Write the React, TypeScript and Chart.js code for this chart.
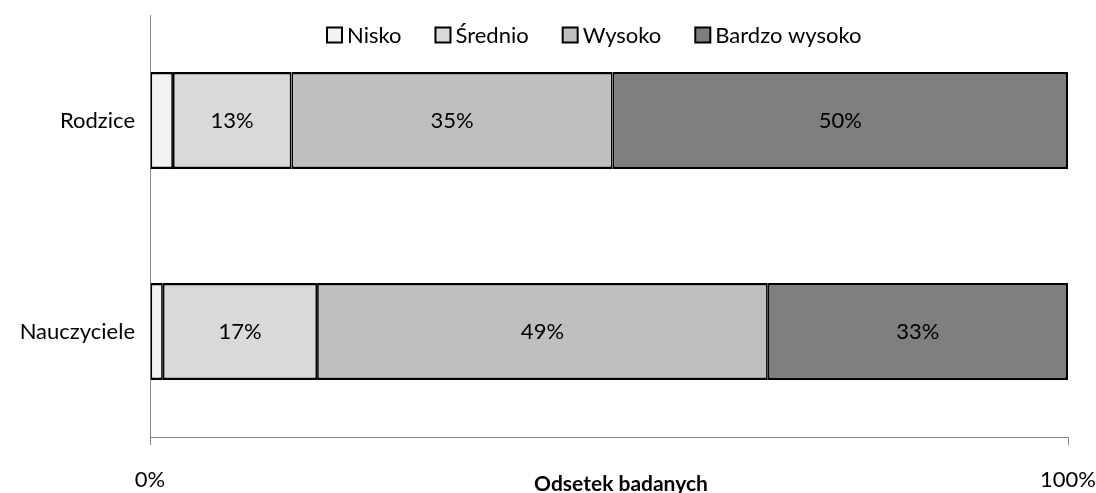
import React, { useEffect, useRef } from 'react';
import { Chart, registerables } from 'chart.js';

Chart.register(...registerables);

const categories = ['Rodzice', 'Nauczyciele'];
const seriesNames = ['Nisko', 'Średnio', 'Wysoko', 'Bardzo wysoko'];
const nisko = [2.5, 1.4];
const srednio = [12.9, 16.8];
const wysoko = [35.0, 49.1];
const bardzoWysoko = [49.6, 32.7];
const xTickLabels = ['0%', '100%'];
const axisTitle = 'Odsetek badanych';

const colors = ['#f2f2f2', '#d9d9d9', '#bfbfbf', '#7f7f7f'];
const FONT = 'Lato';

const labelsPlugin = {
  id: 'segLabels',
  afterDatasetsDraw(chart: any) {
    const ctx = chart.ctx;
    ctx.save();
    ctx.font = `22px ${FONT}`;
    ctx.fillStyle = '#000';
    ctx.textAlign = 'center';
    ctx.textBaseline = 'middle';
    chart.data.datasets.forEach((ds: any, di: number) => {
      if (di === 0) return;
      const meta = chart.getDatasetMeta(di);
      meta.data.forEach((bar: any, i: number) => {
        const v = ds.data[i];
        const cx = (bar.x + bar.base) / 2;
        ctx.fillText(Math.round(v) + '%', cx, bar.y);
      });
    });
    ctx.restore();
  },
};

const legendTitlePlugin = {
  id: 'legendTitle',
  afterDraw(chart: any) {
    const ctx = chart.ctx;
    const area = chart.chartArea;
    ctx.save();
    ctx.font = `22px ${FONT}`;
    const box = 15;
    const gapBoxText = 5;
    const gapItems = 34;
    const widths = seriesNames.map((n) => ctx.measureText(n).width);
    let x = area.left + 177;
    const y = 35;
    seriesNames.forEach((n, i) => {
      ctx.fillStyle = colors[i];
      ctx.fillRect(x, y - box / 2, box, box);
      ctx.strokeStyle = '#000';
      ctx.lineWidth = 2;
      ctx.strokeRect(x, y - box / 2, box, box);
      ctx.fillStyle = '#000';
      ctx.textAlign = 'left';
      ctx.textBaseline = 'middle';
      ctx.fillText(n, x + box + gapBoxText, y + 1);
      x += box + gapBoxText + widths[i] + gapItems;
    });
    ctx.font = `bold 21px ${FONT}`;
    ctx.textAlign = 'center';
    ctx.textBaseline = 'middle';
    ctx.fillText(axisTitle, (area.left + area.right) / 2 + 12, 484);
    ctx.restore();
  },
};

export default function App() {
  const ref = useRef<HTMLCanvasElement | null>(null);
  useEffect(() => {
    if (!ref.current) return;
    const series = [nisko, srednio, wysoko, bardzoWysoko];
    const chart = new Chart(ref.current, {
      type: 'bar',
      data: {
        labels: categories,
        datasets: series.map((d, i) => ({
          label: seriesNames[i],
          data: d,
          backgroundColor: colors[i],
          borderColor: '#000',
          borderWidth: { top: 2.5, bottom: 2.5, left: 1.75, right: i === 3 ? 2.5 : 1.75 },
          borderSkipped: false,
          categoryPercentage: 1,
          barPercentage: 0.46,
        })),
      },
      plugins: [labelsPlugin, legendTitlePlugin],
      options: {
        indexAxis: 'y',
        animation: false,
        responsive: true,
        maintainAspectRatio: false,
        layout: { padding: { top: 15, right: 28, left: 0, bottom: 0 } },
        plugins: { legend: { display: false }, tooltip: { enabled: false } },
        scales: {
          x: {
            stacked: true,
            min: 0,
            max: 100,
            afterFit: (s: any) => {
              s.height = 56;
              s.paddingLeft = 0;
              s.paddingRight = 0;
              s.paddingTop = 0;
              s.paddingBottom = 0;
            },
            afterBuildTicks: (s: any) => { s.ticks = [{ value: 0 }, { value: 100 }]; },
            ticks: {
              stepSize: 100,
              padding: 22,
              color: '#000',
              font: { family: FONT, size: 22 },
              callback: (_v: any, i: number) => xTickLabels[i],
            },
            grid: { drawOnChartArea: false, drawTicks: true, tickLength: 8, color: '#868686' },
            border: { display: true, color: '#868686' },
          },
          y: {
            stacked: true,
            afterFit: (s: any) => {
              s.width = 150;
              s.paddingLeft = 0;
              s.paddingRight = 0;
              s.paddingTop = 0;
              s.paddingBottom = 0;
            },
            ticks: { padding: 15, color: '#000', font: { family: FONT, size: 22 } },
            grid: { display: false, drawTicks: false },
            border: { display: true, color: '#868686' },
          },
        },
      },
    });
    return () => chart.destroy();
  }, []);
  return (
    <div style={{ position: 'fixed', left: 0, top: 0, width: 1096, height: 493, background: '#fff' }}>
      <canvas ref={ref} />
    </div>
  );
}
